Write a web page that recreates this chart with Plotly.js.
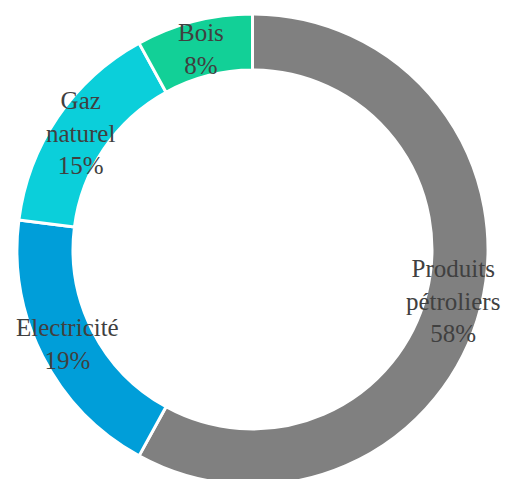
<!DOCTYPE html>
<html>
<head>
<meta charset="utf-8">
<script src="https://cdn.plot.ly/plotly-3.0.1.min.js"></script>
<style>
html,body{margin:0;padding:0;overflow:hidden;background:#fff;}
#chart{width:512px;height:485px;}
</style>
</head>
<body>
<div id="chart"></div>
<script>
const labels = ['Produits<br>pétroliers', 'Electricité', 'Gaz<br>naturel', 'Bois'];
const values = [58, 19, 15, 8];
const colors = ['#808080', '#009ED9', '#0BCFDA', '#12D097'];

const hole = 0.762;
const total = values.reduce((a, b) => a + b, 0);

const annotations = [];
let cum = 0;
for (let i = 0; i < values.length; i++) {
  const mid = (cum + values[i] / 2) / total * 2 * Math.PI;
  cum += values[i];
  const r = 0.5 * (1 + hole) / 2;
  annotations.push({
    xref: 'paper', yref: 'paper',
    x: 0.5 + r * Math.sin(mid),
    y: 0.5 + r * Math.cos(mid),
    xanchor: 'center', yanchor: 'middle',
    showarrow: false,
    text: labels[i] + '<br>' + Math.round(values[i] / total * 100) + '%',
    font: {family: 'Liberation Serif, serif', size: 25, color: '#404040'}
  });
}

const trace = {
  type: 'pie',
  labels: labels,
  values: values,
  hole: hole,
  sort: false,
  direction: 'clockwise',
  rotation: 0,
  marker: {colors: colors, line: {color: '#ffffff', width: 3}},
  textinfo: 'none',
  hoverinfo: 'skip',
  domain: {x: [0, 1], y: [0, 1]}
};

const layout = {
  width: 512, height: 485,
  margin: {l: 17, r: 24, t: 14, b: 0, pad: 0},
  showlegend: false,
  paper_bgcolor: '#ffffff',
  annotations: annotations
};

Plotly.newPlot('chart', [trace], layout, {displayModeBar: false, staticPlot: true});
</script>
</body>
</html>
